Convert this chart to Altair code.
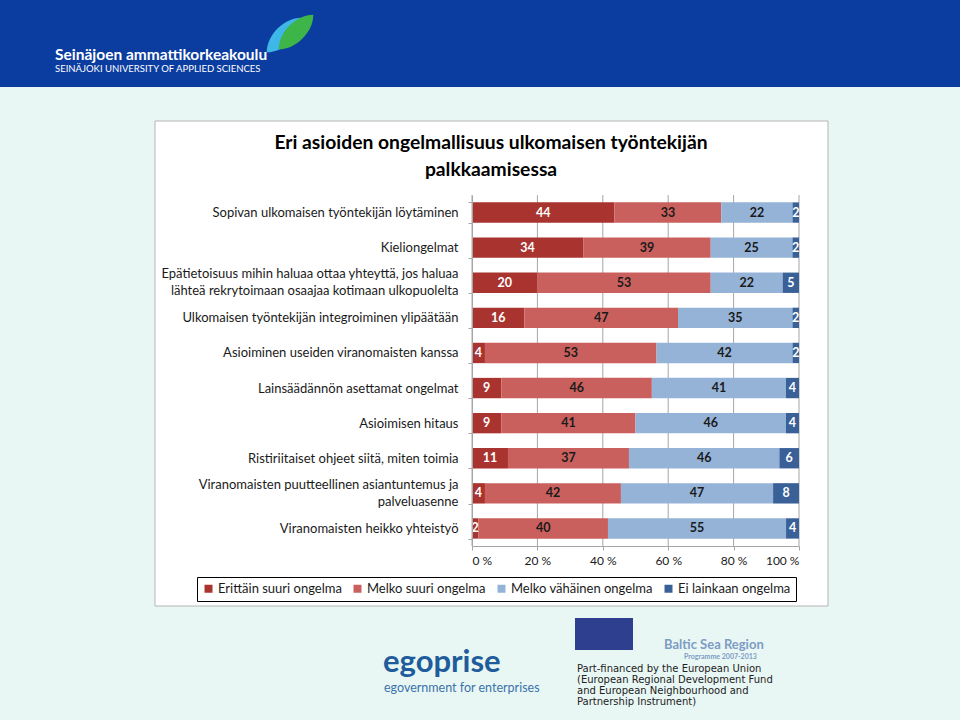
import altair as alt
import pandas as pd

categories = [
    "Sopivan ulkomaisen työntekijän löytäminen",
    "Kieliongelmat",
    "Epätietoisuus mihin haluaa ottaa yhteyttä, jos haluaa|lähteä rekrytoimaan osaajaa kotimaan ulkopuolelta",
    "Ulkomaisen työntekijän integroiminen ylipäätään",
    "Asioiminen useiden viranomaisten kanssa",
    "Lainsäädännön asettamat ongelmat",
    "Asioimisen hitaus",
    "Ristiriitaiset ohjeet siitä, miten toimia",
    "Viranomaisten puutteellinen asiantuntemus ja|palveluasenne",
    "Viranomaisten heikko yhteistyö",
]
series = ["Erittäin suuri ongelma", "Melko suuri ongelma", "Melko vähäinen ongelma", "Ei lainkaan ongelma"]
erittain_suuri = [44, 34, 20, 16, 4, 9, 9, 11, 4, 2]
melko_suuri = [33, 39, 53, 47, 53, 46, 41, 37, 42, 40]
melko_vahainen = [22, 25, 22, 35, 42, 41, 46, 46, 47, 55]
ei_lainkaan = [2, 2, 5, 2, 2, 4, 4, 6, 8, 4]
colors = ["#A9332E", "#C9605D", "#95B3D7", "#3A6098"]
text_colors = ["#FFFFFF", "#1A1A1A", "#1A1A1A", "#FFFFFF"]
x_ticks = [0, 0.2, 0.4, 0.6, 0.8, 1.0]

FONT = "Lato"

rows = []
for si, (name, vals) in enumerate(zip(series, [erittain_suuri, melko_suuri, melko_vahainen, ei_lainkaan])):
    for c, v in zip(categories, vals):
        rows.append({"cat": c, "series": name, "value": v, "order": si, "tc": text_colors[si]})
df = pd.DataFrame(rows)

base = alt.Chart(df).transform_stack(
    stack="value", groupby=["cat"], as_=["x0", "x1"],
    sort=[alt.SortField("order", order="ascending")], offset="normalize"
).transform_calculate(mid="(datum.x0 + datum.x1) / 2")

yenc = alt.Y(
    "cat:N", sort=categories, title=None,
    scale=alt.Scale(paddingInner=0.42, paddingOuter=0.21),
    axis=alt.Axis(
        labelExpr="split(datum.label, '|')", labelFont=FONT, labelFontSize=13,
        labelColor="#1A1A1A", labelLimit=400, labelPadding=10, labelLineHeight=17,
        labelOffset={"condition": {"test": "indexof(datum.label, '|') >= 0", "value": -9}, "value": 0},
        domainColor="#A6A6A6", tickColor="#A6A6A6", tickSize=4, tickBand="extent",
        zindex=1,
    ),
)

bars = base.mark_bar().encode(
    y=yenc,
    x=alt.X(
        "x0:Q", title=None, scale=alt.Scale(domain=[0, 1], nice=False),
        axis=alt.Axis(
            values=x_ticks, labelExpr="format(datum.value * 100, 'd') + ' %'",
            grid=False, labelFont=FONT, labelFontSize=12, labelColor="#1A1A1A",
            domainColor="#A6A6A6", tickColor="#A6A6A6", tickSize=4, labelPadding=5,
            zindex=1,
        ),
    ),
    x2="x1:Q",
    color=alt.Color(
        "series:N", scale=alt.Scale(domain=series, range=colors),
        legend=alt.Legend(
            title=None, orient="none", legendX=-275, legendY=382, direction="horizontal",
            strokeColor="#000000", padding=5, symbolType="square", symbolSize=64,
            symbolStrokeWidth=0, labelFont=FONT, labelFontSize=13, labelColor="#1A1A1A",
            columnPadding=9, labelOffset=3,
        ),
    ),
)

labels = base.mark_text(font=FONT, fontWeight="bold", fontSize=12.5).encode(
    y=alt.Y("cat:N", sort=categories),
    x=alt.X("mid:Q"),
    text=alt.Text("value:Q"),
    color=alt.Color("tc:N", scale=None, legend=None),
)

grid_df = pd.DataFrame({"g": x_ticks})
grid = alt.Chart(grid_df).mark_rule(color="#A6A6A6", strokeWidth=1).encode(x=alt.X("g:Q"))

dummy = pd.DataFrame({"a": [0]})
banner = alt.Chart(dummy).mark_rect(color="#0B3C9F").encode(
    x=alt.value(-472), x2=alt.value(488), y=alt.value(-195), y2=alt.value(-108)
)
box = alt.Chart(dummy).mark_rect(fill="#FFFFFF", stroke="#B4B4B4", strokeWidth=1).encode(
    x=alt.value(-317), x2=alt.value(356), y=alt.value(-74), y2=alt.value(411)
)

LEAF = "M -1 1 C -1 0 0 -1 1 -1 C 1 0 0 1 -1 1 Z"
leaf_cyan = alt.Chart(dummy).mark_point(shape=LEAF, filled=True, color="#3FB6E8", opacity=1, size=1200).encode(
    x=alt.value(284 - 472), y=alt.value(35 - 195)
)
leaf_green = alt.Chart(dummy).mark_point(shape=LEAF, filled=True, color="#3DB549", opacity=1, size=1200).encode(
    x=alt.value(296 - 472), y=alt.value(32 - 195)
)


def txt(s, x, y, size, weight="normal", color="#1A1A1A", align="left", font=FONT):
    return alt.Chart(dummy).mark_text(
        text=s, font=font, fontSize=size, fontWeight=weight, color=color, align=align, baseline="middle"
    ).encode(x=alt.value(x - 472), y=alt.value(y - 195))


decor = [
    txt("Seinäjoen ammattikorkeakoulu", 55, 55, 15.5, "bold", "#FFFFFF"),
    txt("SEINÄJOKI UNIVERSITY OF APPLIED SCIENCES", 55, 69, 9.5, "normal", "#FFFFFF"),
    txt("Eri asioiden ongelmallisuus ulkomaisen työntekijän", 491, 143, 19.3, "bold", "#000000", "center"),
    txt("palkkaamisessa", 491, 170, 19.3, "bold", "#000000", "center"),
    txt("egoprise", 383, 663, 31, "bold", "#1F5C9B"),
    txt("egovernment for enterprises", 384, 688, 12.5, "normal", "#3A72AA"),
    txt("Baltic Sea Region", 664, 645, 13, "bold", "#7D9CC4"),
    txt("Programme 2007-2013", 684, 657, 7, "bold", "#7D9CC4"),
    txt("Part-financed by the European Union", 577, 669, 10, "normal", "#222222", font="DejaVu Sans"),
    txt("(European Regional Development Fund", 577, 680, 10, "normal", "#222222", font="DejaVu Sans"),
    txt("and European Neighbourhood and", 577, 691, 10, "normal", "#222222", font="DejaVu Sans"),
    txt("Partnership Instrument)", 577, 702, 10, "normal", "#222222", font="DejaVu Sans"),
]
eu_flag = alt.Chart(dummy).mark_rect(color="#2D3F8E").encode(
    x=alt.value(575 - 472), x2=alt.value(633 - 472), y=alt.value(618 - 195), y2=alt.value(650 - 195)
)

chart = alt.layer(banner, leaf_cyan, leaf_green, box, eu_flag, *decor, grid, bars, labels).properties(
    width=327, height=351,
    padding={"left": 472, "top": 195, "right": 161, "bottom": 174},
    autosize=alt.AutoSizeParams(type="none"),
    background="#E9F7F4",
).configure_view(stroke=None)

chart.save("out.html", embed_options={"renderer": "svg", "actions": False})
